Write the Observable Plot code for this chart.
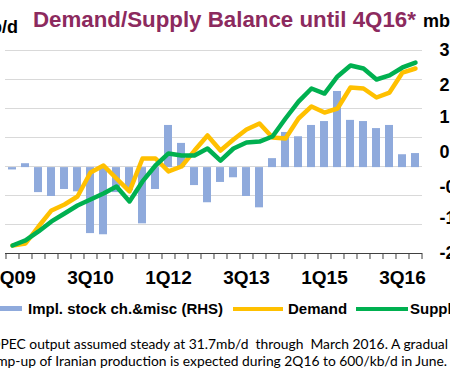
<!DOCTYPE html>
<html><head><meta charset="utf-8">
<script src="https://cdn.jsdelivr.net/npm/d3@7"></script>
<script src="https://cdn.jsdelivr.net/npm/@observablehq/plot@0.6"></script>
<style>
html,body{margin:0;padding:0;background:#fff;overflow:hidden;width:450px;height:375px;}
#stage{position:relative;width:450px;height:375px;overflow:hidden;font-family:"Liberation Sans",Arial,sans-serif;background:#fff;}
.abs{position:absolute;white-space:pre;line-height:1;}
</style></head><body><div id="stage"></div>
<script>
// ---- data ----
const quarters = ["1Q09","2Q09","3Q09","4Q09","1Q10","2Q10","3Q10","4Q10","1Q11","2Q11","3Q11","4Q11",
  "1Q12","2Q12","3Q12","4Q12","1Q13","2Q13","3Q13","4Q13","1Q14","2Q14","3Q14","4Q14",
  "1Q15","2Q15","3Q15","4Q15","1Q16","2Q16","3Q16","4Q16"];
const demand = [84.55, 84.69, 85.86, 86.97, 87.38, 87.93, 89.59, 90.07, 89.17, 88.28, 90.55, 90.55,
  89.66, 90.0, 91.1, 92.14, 91.1, 91.86, 92.55, 92.97, 92.0, 91.93, 93.31, 94.14,
  93.72, 94.0, 95.45, 95.38, 94.76, 95.1, 96.48, 96.76];
const supply = [84.55, 84.9, 85.52, 86.21, 86.76, 87.31, 87.72, 88.14, 88.62, 87.59, 88.97, 90.07,
  90.9, 90.76, 90.76, 91.24, 90.41, 91.24, 91.66, 91.72, 92.07, 93.31, 94.48, 95.38,
  95.03, 96.21, 96.97, 96.76, 96.0, 96.28, 96.83, 97.17];
const stockChange = [-0.06, 0.1, -0.64, -0.74, -0.56, -0.62, -1.69, -1.72, -0.64, -0.59, -1.44, -0.56,
  1.08, 0.62, -0.46, -0.9, -0.38, -0.26, -0.74, -1.03, 0.23, 0.9, 0.79, 1.08,
  1.18, 1.95, 1.21, 1.18, 1.0, 1.08, 0.33, 0.36];
const xTickLabels = ["1Q09","3Q10","1Q12","3Q13","1Q15","3Q16"];
const leftTicks = [84, 86, 88, 90, 92, 94, 96, 98];
const rightTicks = [3.0, 2.1, 1.3, 0.4, -0.5, -1.3, -2.2];
const titleText = "Demand/Supply Balance until 4Q16*";
const unitText = "mb/d";
const legendLabels = ["Impl. stock ch.&misc (RHS)", "Demand", "Supply"];
const captionLines = ["OPEC output assumed steady at 31.7mb/d  through  March 2016. A gradual",
  "ramp-up of Iranian production is expected during 2Q16 to 600/kb/d in June."];

// ---- layout ----
const SHIFT = 40, W = 520, H = 290;
const plotLeft = 5, plotRight = 422, plotTop = 50, plotBottom = 253;
const yMin = 84, yMax = 98, rMin = -2.2, rMax = 3;
const toLeft = s => yMin + (s - rMin) * (yMax - yMin) / (rMax - rMin);
const rightPos = rightTicks.map(toLeft);
const step = (plotRight - plotLeft) / quarters.length;
const font = '"Liberation Sans", Arial, sans-serif';
const colors = {bar: "#8faadc", demand: "#ffc000", supply: "#00b050", title: "#8c2a5e"};

const rows = quarters.map((q, i) => ({q, demand: demand[i], supply: supply[i], stock: stockChange[i]}));
const zeroLeft = toLeft(0);

const chart = Plot.plot({
  width: W, height: H,
  marginLeft: plotLeft + SHIFT, marginRight: W - SHIFT - plotRight,
  marginTop: plotTop, marginBottom: H - plotBottom,
  style: {fontFamily: font, background: "transparent", overflow: "visible"},
  x: {type: "band", domain: quarters, paddingInner: 0.38, paddingOuter: 0.19, axis: null, label: null},
  y: {domain: [yMin, yMax], axis: null, label: null},
  marks: [
    Plot.gridY(leftTicks.filter(v => v > yMin), {stroke: "#d9d9d9", strokeOpacity: 1, strokeWidth: 1.2}),
    Plot.barY(rows, {x: "q", y1: zeroLeft, y2: d => toLeft(d.stock), fill: colors.bar}),
    Plot.ruleY([yMin], {stroke: "#404040", strokeWidth: 1}),
    Plot.ruleX(quarters, {x: d => d, dx: -step / 2, insetTop: plotBottom - plotTop, insetBottom: -6, stroke: "#404040"}),
    Plot.ruleX([quarters[quarters.length - 1]], {x: d => d, dx: step / 2, insetTop: plotBottom - plotTop, insetBottom: -6, stroke: "#404040"}),
    Plot.line(rows, {x: "q", y: "demand", stroke: colors.demand, strokeWidth: 4.5, strokeLinejoin: "round"}),
    Plot.line(rows, {x: "q", y: "supply", stroke: colors.supply, strokeWidth: 4.5, strokeLinejoin: "round"}),
    Plot.axisX(xTickLabels, {tickSize: 0, tickPadding: 17, fontSize: 19, fontWeight: "bold", fill: "#000", label: null}),
    Plot.axisY(rightPos, {anchor: "right", tickSize: 0, tickPadding: 17, fontSize: 18, fontWeight: "bold", fill: "#000", label: null,
      tickFormat: v => rightTicks[rightPos.indexOf(v)].toFixed(1)})
  ]
});
chart.style.position = "absolute";
chart.style.left = (-SHIFT) + "px";
chart.style.top = "0px";
chart.style.maxWidth = "none";

const stage = document.getElementById("stage");
stage.appendChild(chart);

function addText(txt, {left, right, baseline, size, weight = "normal", color = "#000", family = font, spacing = 0}) {
  const d = document.createElement("div");
  d.className = "abs";
  d.textContent = txt;
  d.style.fontSize = size + "px";
  d.style.fontWeight = weight;
  d.style.color = color;
  d.style.fontFamily = family;
  if (spacing) d.style.letterSpacing = spacing + "px";
  d.style.top = (baseline - 0.8465 * size) + "px";
  if (left != null) d.style.left = left + "px";
  if (right != null) { d.style.right = (450 - right) + "px"; d.style.textAlign = "right"; }
  stage.appendChild(d);
  return d;
}
function addBox(left, top, w, h, color) {
  const d = document.createElement("div");
  d.style.cssText = `position:absolute;left:${left}px;top:${top}px;width:${w}px;height:${h}px;background:${color};`;
  stage.appendChild(d);
}

// title and unit labels
addText(titleText, {left: 33, baseline: 27.5, size: 22.3, weight: "bold", color: colors.title});
addText(unitText, {right: 18, baseline: 33.3, size: 18, weight: "bold"});
addText(unitText, {left: 423, baseline: 27.5, size: 18, weight: "bold"});

// legend
addBox(-10, 306, 32, 5, colors.bar);
addText(legendLabels[0], {left: 28, baseline: 313.5, size: 15, weight: "bold"});
addBox(233, 306.5, 50, 4, colors.demand);
addText(legendLabels[1], {left: 288, baseline: 313.5, size: 15, weight: "bold"});
addBox(356, 306.5, 52, 4, colors.supply);
addText(legendLabels[2], {left: 410, baseline: 313.5, size: 15, weight: "bold"});

// caption: first line fitted so "PEC ... gradual" spans 0..448, with the leading "O" just off the left edge
const capFamily = 'Lato, "Open Sans", sans-serif';
function captionLine(txt, cutChars, rightEdge, baseline, size) {
  const d = document.createElement("div");
  d.className = "abs";
  d.style.fontFamily = capFamily;
  d.style.fontSize = size + "px";
  const a = document.createElement("span"); a.textContent = txt.slice(0, cutChars);
  const b = document.createElement("span"); b.textContent = txt.slice(cutChars);
  d.append(a, b);
  stage.appendChild(d);
  return {d, a, b, place(sz) {
    d.style.fontSize = sz + "px";
    d.style.top = (baseline - 0.80 * sz) + "px";
    const wb = b.getBoundingClientRect().width;
    const wa = a.getBoundingClientRect().width;
    d.style.left = (rightEdge - wb - wa) + "px";
    return wb;
  }};
}
const l1 = captionLine(captionLines[0], 1, 448, 347.7, 13);
const w13 = l1.place(13);
const capSize = 13 * 448 / w13;
l1.place(capSize);
const l2 = captionLine(captionLines[1], 2, 447, 365, capSize);
l2.place(capSize);
</script>
</body></html>
